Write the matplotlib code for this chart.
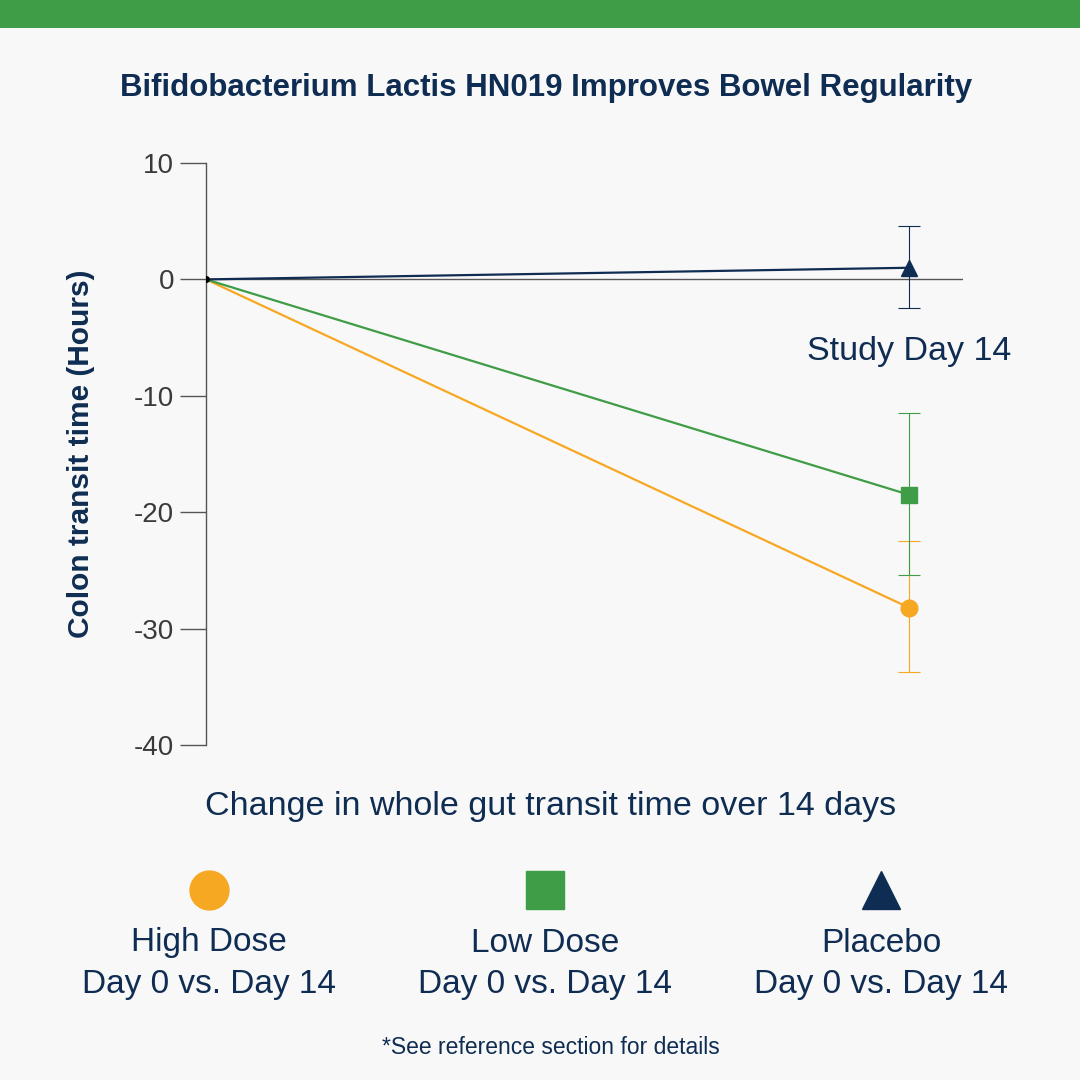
import matplotlib.pyplot as plt
from matplotlib.lines import Line2D
from matplotlib.patches import Rectangle

plt.rcParams['font.family'] = ['Liberation Sans', 'DejaVu Sans']

navy = '#0f2d52'
green = '#3f9c47'
orange = '#f7a823'

groups = ['High Dose', 'Low Dose', 'Placebo']
subtitle = 'Day 0 vs. Day 14'
days = [0, 14]
values = {'High Dose': [0, -28.2], 'Low Dose': [0, -18.5], 'Placebo': [0, 1.0]}
err_hi = {'High Dose': 5.7, 'Low Dose': 7.0, 'Placebo': 3.6}
err_lo = {'High Dose': 5.5, 'Low Dose': 6.9, 'Placebo': 3.5}
colors = {'High Dose': orange, 'Low Dose': green, 'Placebo': navy}
markers = {'High Dose': 'o', 'Low Dose': 's', 'Placebo': '^'}
yticks = [10, 0, -10, -20, -30, -40]

fig = plt.figure(figsize=(10.8, 10.8), dpi=100)
fig.patch.set_facecolor('#f8f8f8')
fig.add_artist(Rectangle((0, 1 - 28 / 1080), 1, 28 / 1080, transform=fig.transFigure,
                         color=green, lw=0))

ax = fig.add_axes([206 / 1080, 1 - 745 / 1080, 757 / 1080, 582 / 1080])
ax.set_facecolor('none')
ax.set_xlim(0, 14 * 757 / 703)
ax.set_ylim(-40, 10)
for s in ['top', 'right', 'bottom']:
    ax.spines[s].set_visible(False)
ax.spines['left'].set_color('#555555')
ax.spines['left'].set_linewidth(1)
ax.axhline(0, color='#555555', lw=1, zorder=1)
ax.set_xticks([])
ax.set_yticks(yticks)
ax.set_yticklabels([str(t) for t in yticks])
ax.tick_params(axis='y', length=19, width=1, color='#555555', labelsize=20,
               labelcolor='#3a3a3a', pad=4)
ax.set_ylabel('Colon transit time (Hours)', fontsize=21.5, fontweight='bold', color=navy,
              labelpad=28)

for g in ['High Dose', 'Low Dose', 'Placebo']:
    c = colors[g]
    ax.plot(days, values[g], color=c, lw=1.6, zorder=3)
    ax.errorbar(days[1], values[g][1], yerr=[[err_lo[g]], [err_hi[g]]], fmt='none',
                ecolor=c, elinewidth=0.8, capsize=8, capthick=0.8, zorder=2)
    ax.plot(days[1], values[g][1], marker=markers[g], color=c,
            ms=11 if g == 'Placebo' else 12, zorder=4, linestyle='none')
ax.plot(0, 0, 'o', color='black', ms=4, zorder=5)
ax.text(14, -6.2, 'Study Day 14', fontsize=24.5, color=navy, ha='center', va='center')

fig.text(546 / 1080, 1 - 88 / 1080, 'Bifidobacterium Lactis HN019 Improves Bowel Regularity',
         fontsize=22.5, fontweight='bold', color=navy, ha='center', va='center')
fig.text(551 / 1080, 1 - 806 / 1080, 'Change in whole gut transit time over 14 days',
         fontsize=24.5, color=navy, ha='center', va='center')

xs = [209, 545, 881]
for x, g in zip(xs, groups):
    fig.add_artist(Line2D([x / 1080], [1 - 890 / 1080], marker=markers[g], color=colors[g],
                          ms=28, transform=fig.transFigure, linestyle='none'))
    fig.text(x / 1080, 1 - 943 / 1080, g, fontsize=24, color=navy, ha='center', va='center')
    fig.text(x / 1080, 1 - 985 / 1080, subtitle, fontsize=24, color=navy, ha='center',
             va='center')

fig.text(551 / 1080, 1 - 1047 / 1080, '*See reference section for details', fontsize=16.5,
         color=navy, ha='center', va='center')

fig.savefig('out.png', dpi=100, facecolor=fig.get_facecolor())
